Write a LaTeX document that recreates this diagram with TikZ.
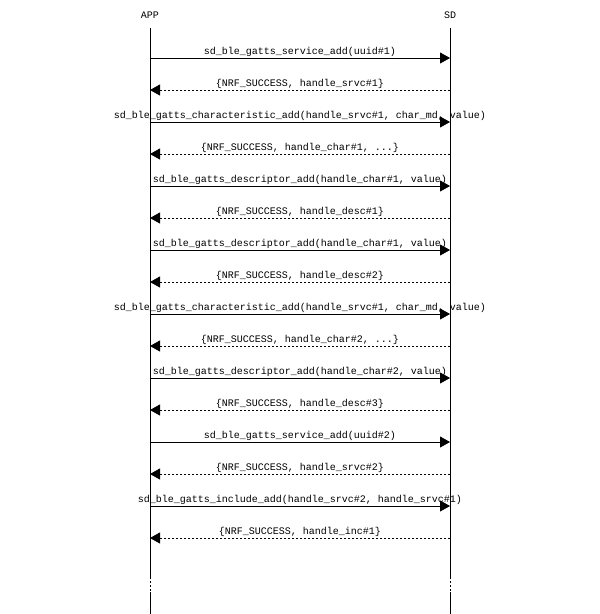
\documentclass[tikz,border=0pt]{standalone}
\usepackage{fontspec}
\setmonofont{Liberation Mono}
\usetikzlibrary{arrows.meta}
\begin{document}
\begin{tikzpicture}[x=1pt,y=-1pt,
  lbl/.style={font=\ttfamily\fontsize{10}{12}\selectfont,inner sep=0pt,anchor=base},
  call/.style={-{Triangle[length=10pt,width=11pt]},line width=0.8pt},
  ret/.style={-{Triangle[length=10pt,width=11pt]},line width=0.8pt,dash pattern=on 2pt off 2pt},
  life/.style={line width=0.8pt}]
\useasboundingbox (0,0) rectangle (600,614);
\node[lbl] (app) at (150,18) {APP};
\node[lbl] (sd) at (450,18) {SD};
\coordinate (at) at (150,28); \coordinate (am1) at (150,577); \coordinate (am2) at (150,592); \coordinate (ab) at (150,614);
\coordinate (st) at (450,28); \coordinate (sm1) at (450,577); \coordinate (sm2) at (450,592); \coordinate (sb) at (450,614);
\draw[life] (at) -- (am1); \draw[life,dash pattern=on 2pt off 2pt] (am1) -- (am2); \draw[life] (am2) -- (ab);
\draw[life] (st) -- (sm1); \draw[life,dash pattern=on 2pt off 2pt] (sm1) -- (sm2); \draw[life] (sm2) -- (sb);
\foreach \i/\t/\txt in {
 1/c/{sd\_ble\_gatts\_service\_add(uuid\#1)},
 2/r/{\{NRF\_SUCCESS, handle\_srvc\#1\}},
 3/c/{sd\_ble\_gatts\_characteristic\_add(handle\_srvc\#1, char\_md, value)},
 4/r/{\{NRF\_SUCCESS, handle\_char\#1, ...\}},
 5/c/{sd\_ble\_gatts\_descriptor\_add(handle\_char\#1, value)},
 6/r/{\{NRF\_SUCCESS, handle\_desc\#1\}},
 7/c/{sd\_ble\_gatts\_descriptor\_add(handle\_char\#1, value)},
 8/r/{\{NRF\_SUCCESS, handle\_desc\#2\}},
 9/c/{sd\_ble\_gatts\_characteristic\_add(handle\_srvc\#1, char\_md, value)},
 10/r/{\{NRF\_SUCCESS, handle\_char\#2, ...\}},
 11/c/{sd\_ble\_gatts\_descriptor\_add(handle\_char\#2, value)},
 12/r/{\{NRF\_SUCCESS, handle\_desc\#3\}},
 13/c/{sd\_ble\_gatts\_service\_add(uuid\#2)},
 14/r/{\{NRF\_SUCCESS, handle\_srvc\#2\}},
 15/c/{sd\_ble\_gatts\_include\_add(handle\_srvc\#2, handle\_srvc\#1)},
 16/r/{\{NRF\_SUCCESS, handle\_inc\#1\}}} {
  \pgfmathsetmacro{\yy}{26+32*\i}
  \coordinate (a\i) at (150,\yy);
  \coordinate (s\i) at (450,\yy);
  \node[lbl] (l\i) at (300,\yy-4) {\txt};
  \if\t c \draw[call] (a\i) -- (s\i); \else \draw[ret] (s\i) -- (a\i); \fi
}
\end{tikzpicture}
\end{document}
